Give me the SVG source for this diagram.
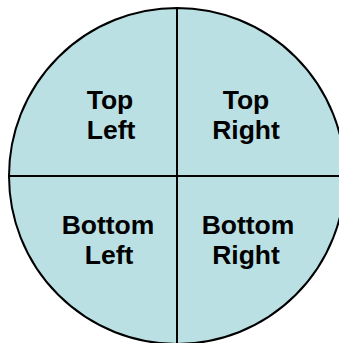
<svg xmlns="http://www.w3.org/2000/svg" width="339" height="343" viewBox="0 0 339 343">
<style>
.q{fill:#BBE0E3;stroke:#000;stroke-width:2}
.t{font-family:"Liberation Sans",Arial,sans-serif;font-weight:bold;font-size:26.5px;fill:#000;text-anchor:middle}
</style>
<rect width="339" height="343" fill="#fff"/>
<g id="top-left">
<path class="q" d="M177,176 L9,176 A168,168 0 0 1 177,8 Z"/>
<text class="t" x="110" y="109">Top</text>
<text class="t" x="111" y="139">Left</text>
</g>
<g id="top-right">
<path class="q" d="M177,176 L177,8 A168,168 0 0 1 345,176 Z"/>
<text class="t" x="246" y="109">Top</text>
<text class="t" x="246" y="139">Right</text>
</g>
<g id="bottom-left">
<path class="q" d="M177,176 L177,344 A168,168 0 0 1 9,176 Z"/>
<text class="t" x="108" y="234">Bottom</text>
<text class="t" x="109" y="264">Left</text>
</g>
<g id="bottom-right">
<path class="q" d="M177,176 L345,176 A168,168 0 0 1 177,344 Z"/>
<text class="t" x="248" y="234">Bottom</text>
<text class="t" x="246" y="264">Right</text>
</g>
</svg>
